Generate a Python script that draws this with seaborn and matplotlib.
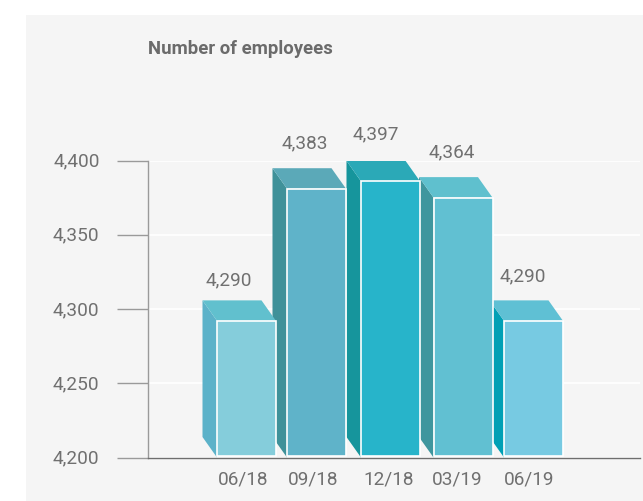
import numpy as np
import pandas as pd
import seaborn as sns
import matplotlib.pyplot as plt
from matplotlib.patches import Polygon, Rectangle
from matplotlib.transforms import ScaledTranslation

# ---- data ----
periods = ["06/18", "09/18", "12/18", "03/19", "06/19"]
drawn_heights = [4292, 4381, 4386, 4375, 4292]
value_labels = ["4,290", "4,383", "4,397", "4,364", "4,290"]
y_ticks = [4200, 4250, 4300, 4350, 4400]

front_colors = ["#85CDDB", "#5FB3C9", "#27B4CA", "#61C0D2", "#77CAE2"]
top_colors = ["#61C0CE", "#5BA9B8", "#2BA9B7", "#5FC0CE", "#5FC0D4"]
side_colors = ["#5CB2C9", "#3F9199", "#16959C", "#3F969E", "#00A0B5"]

# ---- layout, in pixels of the 643x502 picture ----
W, H = 643, 502
left, right, bottom, top = 148, 640, 458.5, 161.5
first_bar = 246.5
bar_step = 71.75
bar_width = 59
depth_x, depth_y = 14.5, 20.5
bar_nudge = [0, -1.75, 0.5, 1.25, 0]
tick_nudge = [-3.5, -5.25, -1, -4.75, -4.5]
label_dx = [-17.5, -11.5, -14.5, -11, -10.5]
label_dy = [42, 46, 48, 46, 46]

text_grey = "#707070"
font_size = 13.7

sns.set_theme(style="white")
plt.rcParams["font.family"] = ["Roboto", "DejaVu Sans"]

fig = plt.figure(figsize=(W / 100, H / 100), dpi=100, facecolor="white")
fig.patches.append(Rectangle((26 / W, 0.5 / H), 1 - 26 / W, 1 - 16.5 / H, transform=fig.transFigure,
                             facecolor="#F5F5F5", edgecolor="none", zorder=-5))
ax = fig.add_axes([left / W, 1 - bottom / H, (right - left) / W, (bottom - top) / H])
ax.patch.set_alpha(0)

df = pd.DataFrame({"period": periods, "employees": drawn_heights})
sns.barplot(data=df, x="period", y="employees", hue="period", palette=front_colors,
            width=bar_width / bar_step, saturation=1, legend=False, dodge=False,
            edgecolor="white", linewidth=1.2, ax=ax)

ax.set_xlim((left - first_bar) / bar_step, (right - first_bar) / bar_step)
ax.set_ylim(y_ticks[0], y_ticks[-1])

# pixel depth of the fake 3D in data units
dx = depth_x / bar_step
dy = depth_y * (y_ticks[-1] - y_ticks[0]) / (bottom - top)

bars = [c[0] for c in ax.containers]
for i, bar in enumerate(bars):
    x0 = bar.get_x() + bar_nudge[i] / bar_step
    x1 = x0 + bar.get_width()
    val = drawn_heights[i]
    bar.set_x(x0)
    bar.set_y(y_ticks[0] + 0.8)
    bar.set_height(val - y_ticks[0] - 0.8)
    # bars to the left sit in front of the side of the next bar
    z = 10 - i
    bar.set_zorder(z + 0.5)
    ax.add_patch(Polygon([(x0 - dx, val + dy), (x0, val), (x0, y_ticks[0]), (x0 - dx, y_ticks[0] + dy)],
                         closed=True, facecolor=side_colors[i], edgecolor="none", zorder=z))
    ax.add_patch(Polygon([(x0 - dx, val + dy), (x1 - dx, val + dy), (x1, val), (x0, val)],
                         closed=True, facecolor=top_colors[i], edgecolor="none", zorder=z))
    ax.annotate(value_labels[i], xy=((x0 + x1) / 2, val), xycoords="data",
                xytext=(label_dx[i] * 0.72, label_dy[i] * 0.72), textcoords="offset points",
                ha="center", va="center", fontsize=font_size, color=text_grey,
                annotation_clip=False, zorder=20)

ax.set_xticks(np.arange(len(periods)) + np.array(tick_nudge) / bar_step, periods)
ax.set_yticks(y_ticks, [f"{v:,}" for v in y_ticks])
ax.tick_params(axis="x", length=0, pad=9, labelsize=font_size, labelcolor=text_grey)
ax.tick_params(axis="y", length=31 * 0.72, width=1, color="#9A9A9A", pad=12.5,
               left=True, labelsize=font_size, labelcolor=text_grey)
ax.set_xlabel("")
ax.set_ylabel("")

# y tick labels sit a little above their tick
for lab in ax.get_yticklabels():
    lab.set_transform(lab.get_transform() + ScaledTranslation(0, 2 / 100, fig.dpi_scale_trans))

ax.set_axisbelow(True)
ax.yaxis.grid(True, color="white", linewidth=1.2)
ax.xaxis.grid(False)

sns.despine(ax=ax)
ax.spines["left"].set_color("#9A9A9A")
ax.spines["left"].set_linewidth(1)
ax.spines["bottom"].set_color("#6E6E6E")
ax.spines["bottom"].set_linewidth(1)
ax.spines["bottom"].set_zorder(30)

fig.text(left / W, 1 - 48.5 / H, "Number of employees", fontsize=13.3, fontweight="bold",
         color="#6B6B6B", ha="left", va="center")

fig.savefig("out.png", dpi=100)
